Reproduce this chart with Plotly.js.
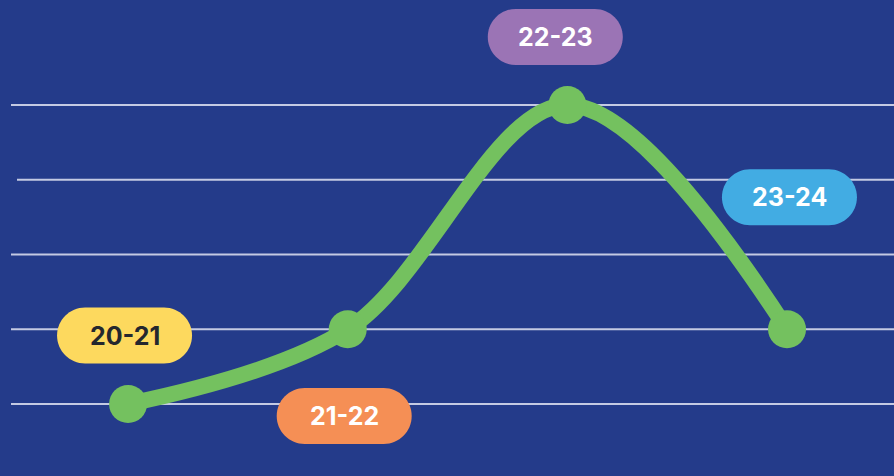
<!DOCTYPE html>
<html>
<head>
<meta charset="utf-8">
<script src="https://cdn.plot.ly/plotly-3.0.1.min.js"></script>
<style>
html,body{margin:0;padding:0;background:#243B8A;}
#chart{width:894px;height:476px;}
</style>
</head>
<body>
<div id="chart"></div>
<script>
// Data
const seasons = ['20-21', '21-22', '22-23', '23-24'];
const values = [1, 2, 5, 2];
const gridValues = [1, 2, 3, 4, 5];

// Label styling
const labelFill = ['#FDD95E', '#F58F55', '#9B74B5', '#42ACE3'];
const labelTextColor = ['#24272E', '#FFFFFF', '#FFFFFF', '#FFFFFF'];
// label anchor positions (offsets in data units from each point)
const labelDx = [-0.016, -0.016, -0.055, 0.011];
const labelY = [1.916, 0.84, 5.91, 3.765];
const gridStartPx = [11, 11, 11, 17, 11];

const W = 894, H = 476;
const bg = '#243B8A';
const green = '#74C15F';

function pillPath(w, h) {
  const r = h / 2, a = w / 2, s = a - r, k = 0.5523 * r;
  return `M ${-s},${-r} L ${s},${-r} C ${s + k},${-r} ${a},${-k} ${a},0 ` +
         `C ${a},${k} ${s + k},${r} ${s},${r} L ${-s},${r} ` +
         `C ${-s - k},${r} ${-a},${k} ${-a},0 C ${-a},${-k} ${-s - k},${-r} ${-s},${-r} Z`;
}

const xIdx = seasons.map((_, i) => i);

const trace = {
  x: xIdx,
  y: values,
  mode: 'lines+markers',
  line: { color: green, width: 16, shape: 'spline', smoothing: 1 },
  marker: { color: green, size: 38 },
  hoverinfo: 'skip',
  showlegend: false
};

const shapes = [];
gridValues.forEach((g, i) => {
  shapes.push({
    type: 'line', xref: 'paper', yref: 'y',
    x0: gridStartPx[i] / W, x1: 1, y0: g, y1: g,
    line: { color: 'rgba(225,228,242,0.85)', width: 2 },
    layer: 'below'
  });
});
seasons.forEach((s, i) => {
  shapes.push({
    type: 'path', xref: 'x', yref: 'y',
    xsizemode: 'pixel', ysizemode: 'pixel',
    xanchor: i + labelDx[i], yanchor: labelY[i],
    path: pillPath(135, 56),
    fillcolor: labelFill[i],
    line: { width: 0 },
    layer: 'above'
  });
});

const annotations = seasons.map((s, i) => ({
  x: i + labelDx[i], y: labelY[i], xref: 'x', yref: 'y',
  text: '<b>' + s + '</b>', showarrow: false,
  font: { family: 'Inter, Open Sans, sans-serif', size: 25, color: labelTextColor[i] },
  xanchor: 'center', yanchor: 'middle'
}));

const layout = {
  width: W, height: H,
  margin: { l: 0, r: 0, t: 0, b: 0 },
  paper_bgcolor: bg, plot_bgcolor: bg,
  xaxis: { range: [-0.583, 3.487], showgrid: false, zeroline: false, showticklabels: false, showline: false, ticks: '' },
  yaxis: { range: [0.037, 6.405], showgrid: false, zeroline: false, showticklabels: false, showline: false, ticks: '' },
  shapes: shapes,
  annotations: annotations,
  showlegend: false
};

Plotly.newPlot('chart', [trace], layout, { displayModeBar: false, staticPlot: true });
</script>
</body>
</html>
